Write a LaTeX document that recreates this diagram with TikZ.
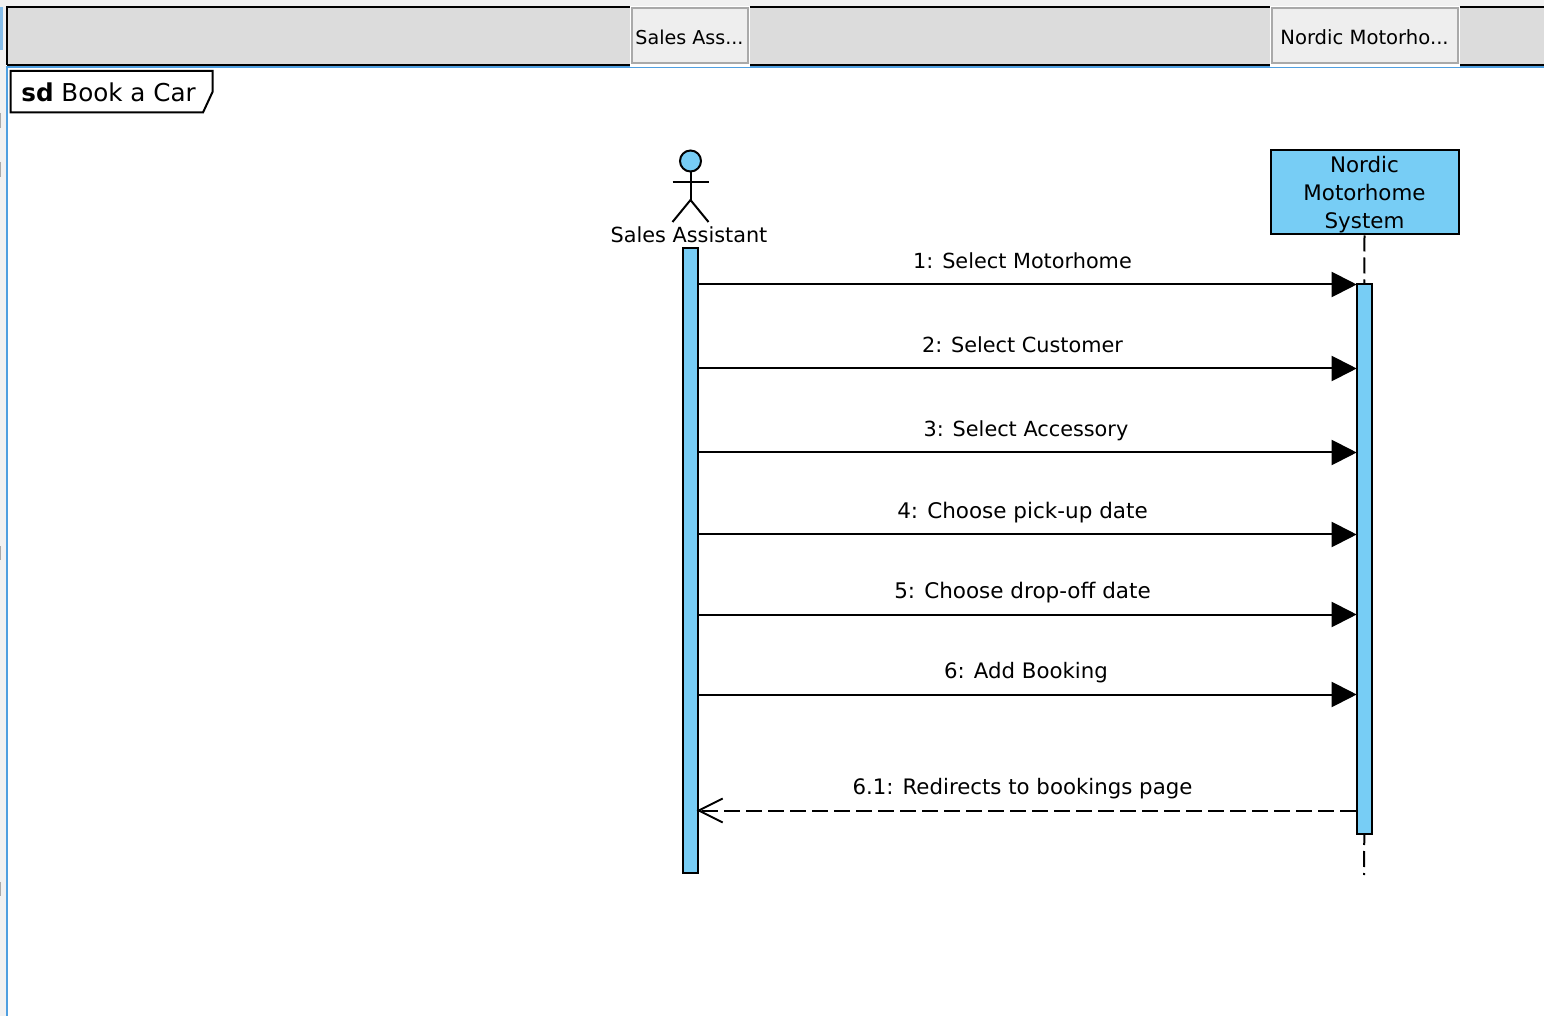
\documentclass[tikz,border=0pt]{standalone}
\usepackage{xcolor}
\usepackage{fontspec}
\setmainfont{DejaVu Sans}
\definecolor{umlblue}{HTML}{77CDF5}
\definecolor{edgeblue}{HTML}{4F9FE0}
\definecolor{bargray}{HTML}{DCDCDC}
\definecolor{tabgray}{HTML}{EEEEEE}
\definecolor{tabedge}{HTML}{A9A9A9}
\definecolor{topgray}{HTML}{F1F1F1}
\usetikzlibrary{arrows.meta}

\tikzset{
    tabbox/.style={draw=tabedge, fill=tabgray, line width=1pt, inner sep=0pt, font=\fontsize{9.8}{12}\selectfont},
    lifebox/.style={draw=black, fill=umlblue, line width=1pt, inner sep=0pt},
    activebar/.style={draw=black, fill=umlblue, line width=1pt, inner sep=0pt, minimum width=7.6pt},
    msg/.style={line width=1pt, -{Triangle[length=12.5pt, width=12.5pt]}, shorten >=-.5pt},
    reply/.style={line width=1pt, dash pattern=on 8pt off 3pt, -{Straight Barb[length=12pt, width=12pt, line width=1pt]}, shorten >=-1.2pt},
    msglabel/.style={font=\fontsize{10.4}{13}\selectfont, inner sep=0pt, anchor=base},
    widelabel/.style={msglabel, font=\fontsize{10.75}{13}\selectfont},
    midlabel/.style={msglabel, font=\fontsize{10.65}{13}\selectfont},
    markbit/.style={fill=tabedge},
}

\begin{document}
\begin{tikzpicture}[x=.5pt, y=-.5pt]
            \useasboundingbox (0, 0) rectangle (1544, 1016);
            \fill[white] (0, 0) rectangle (1544, 1016);

            % window chrome
            \fill[topgray] (0, 0) rectangle (1544, 7);
            \fill[topgray] (0, 0) rectangle (6, 1016);
            \fill[bargray] (7, 7) rectangle (1544, 65);
            \draw[line width=1pt] (7, 65) -- (7, 7) -- (1544, 7);
            \draw[line width=1pt] (7, 65) -- (1544, 65);
            \draw[edgeblue, line width=1pt] (7, 1016) -- (7, 67) -- (1544, 67);
            \fill[edgeblue!70] (0, 7) rectangle (3, 50);
            \fill[markbit] (0, 113) rectangle (1, 128);
            \fill[markbit] (0, 162) rectangle (1, 177);
            \fill[markbit] (0, 546) rectangle (1, 560);
            \fill[markbit] (0, 882) rectangle (1, 896);

            \fill[white] (630, 6) rectangle (750, 67);
            \fill[white] (1270, 6) rectangle (1460, 67);
            \node[tabbox, minimum width=58pt, minimum height=27.5pt, font=\fontsize{9.55}{12}\selectfont] (salesTab) at (689.5, 35.5) {\rule{0pt}{9pt}Sales Ass...};
            \node[tabbox, minimum width=93pt, minimum height=27.5pt] (nordicTab) at (1364.5, 35.5) {\rule{0pt}{9pt}Nordic Motorho...};

            % frame label
            \draw[fill=white, line width=1pt] (10.5, 71) -- (212.5, 71) -- (212.5, 92) -- (203, 112.5) -- (10.5, 112.5) -- cycle;
            \node[font=\fontsize{12.3}{15}\selectfont, anchor=base west, inner sep=0pt] (frameLabel) at (21, 102) {\textbf{sd} Book a Car};

            % actor
            \node[circle, draw=black, fill=umlblue, line width=1pt, minimum size=10.5pt, inner sep=0pt] (head) at (690.5, 161) {};
            \coordinate (hip) at (690.5, 200);
            \draw[line width=1pt] (head.south) -- (hip);
            \coordinate (armL) at (672.5, 182.5);
            \coordinate (armR) at (708.5, 182.5);
            \coordinate (footL) at (672.5, 222);
            \coordinate (footR) at (708.5, 222);
            \draw[line width=1pt] (armL) -- (armR);
            \draw[line width=1pt] (footL) -- (hip) -- (footR);
            \node[msglabel] (salesName) at (689, 242.5) {Sales Assistant};

            % lifeline box
            \node[lifebox, minimum width=94pt, minimum height=42pt, align=center, font=\fontsize{10.7}{14}\selectfont] (nordicBox) at (1364.5, 192.5) {\rule{0pt}{10pt}Nordic\\Motorhome\\System};

            % activation bars
            \node[activebar, minimum height=312pt] (salesBar) at (690.3, 560.5) {};
            \node[activebar, minimum height=275pt] (nordicBar) at (1364.3, 559) {};

            \coordinate (lifeEnd) at (1364, 875);
            \draw[line width=1pt, dash pattern=on 8pt off 3pt] (nordicBox.south) -- (nordicBar.north);
            \draw[line width=1pt, dash pattern=on 8pt off 3pt, dash phase=3pt] (nordicBar.south) -- (lifeEnd);

            % messages
            \coordinate (y1) at (0, 284.5);
            \coordinate (y2) at (0, 368.5);
            \coordinate (y3) at (0, 452.5);
            \coordinate (y4) at (0, 534.5);
            \coordinate (y5) at (0, 614.5);
            \coordinate (y6) at (0, 694.5);
            \coordinate (y7) at (0, 810.5);

            \draw[msg] (salesBar.east |- y1) -- (nordicBar.west |- y1);
            \draw[msg] (salesBar.east |- y2) -- (nordicBar.west |- y2);
            \draw[msg] (salesBar.east |- y3) -- (nordicBar.west |- y3);
            \draw[msg] (salesBar.east |- y4) -- (nordicBar.west |- y4);
            \draw[msg] (salesBar.east |- y5) -- (nordicBar.west |- y5);
            \draw[msg] (salesBar.east |- y6) -- (nordicBar.west |- y6);
            \draw[reply] (nordicBar.west |- y7) -- (salesBar.east |- y7);

            \node[msglabel] (label1) at (1022.5, 268.5) {1: Select Motorhome};
            \node[msglabel] (label2) at (1022.5, 352.5) {2: Select Customer};
            \node[msglabel] (label3) at (1026, 436.5) {3: Select Accessory};
            \node[widelabel] (label4) at (1022.5, 518) {4: Choose pick-up date};
            \node[widelabel] (label5) at (1022.5, 598) {5: Choose drop-off date};
            \node[midlabel] (label6) at (1026, 678) {6: Add Booking};
            \node[midlabel] (label7) at (1022.5, 794) {6.1: Redirects to bookings page};
\end{tikzpicture}
\end{document}
